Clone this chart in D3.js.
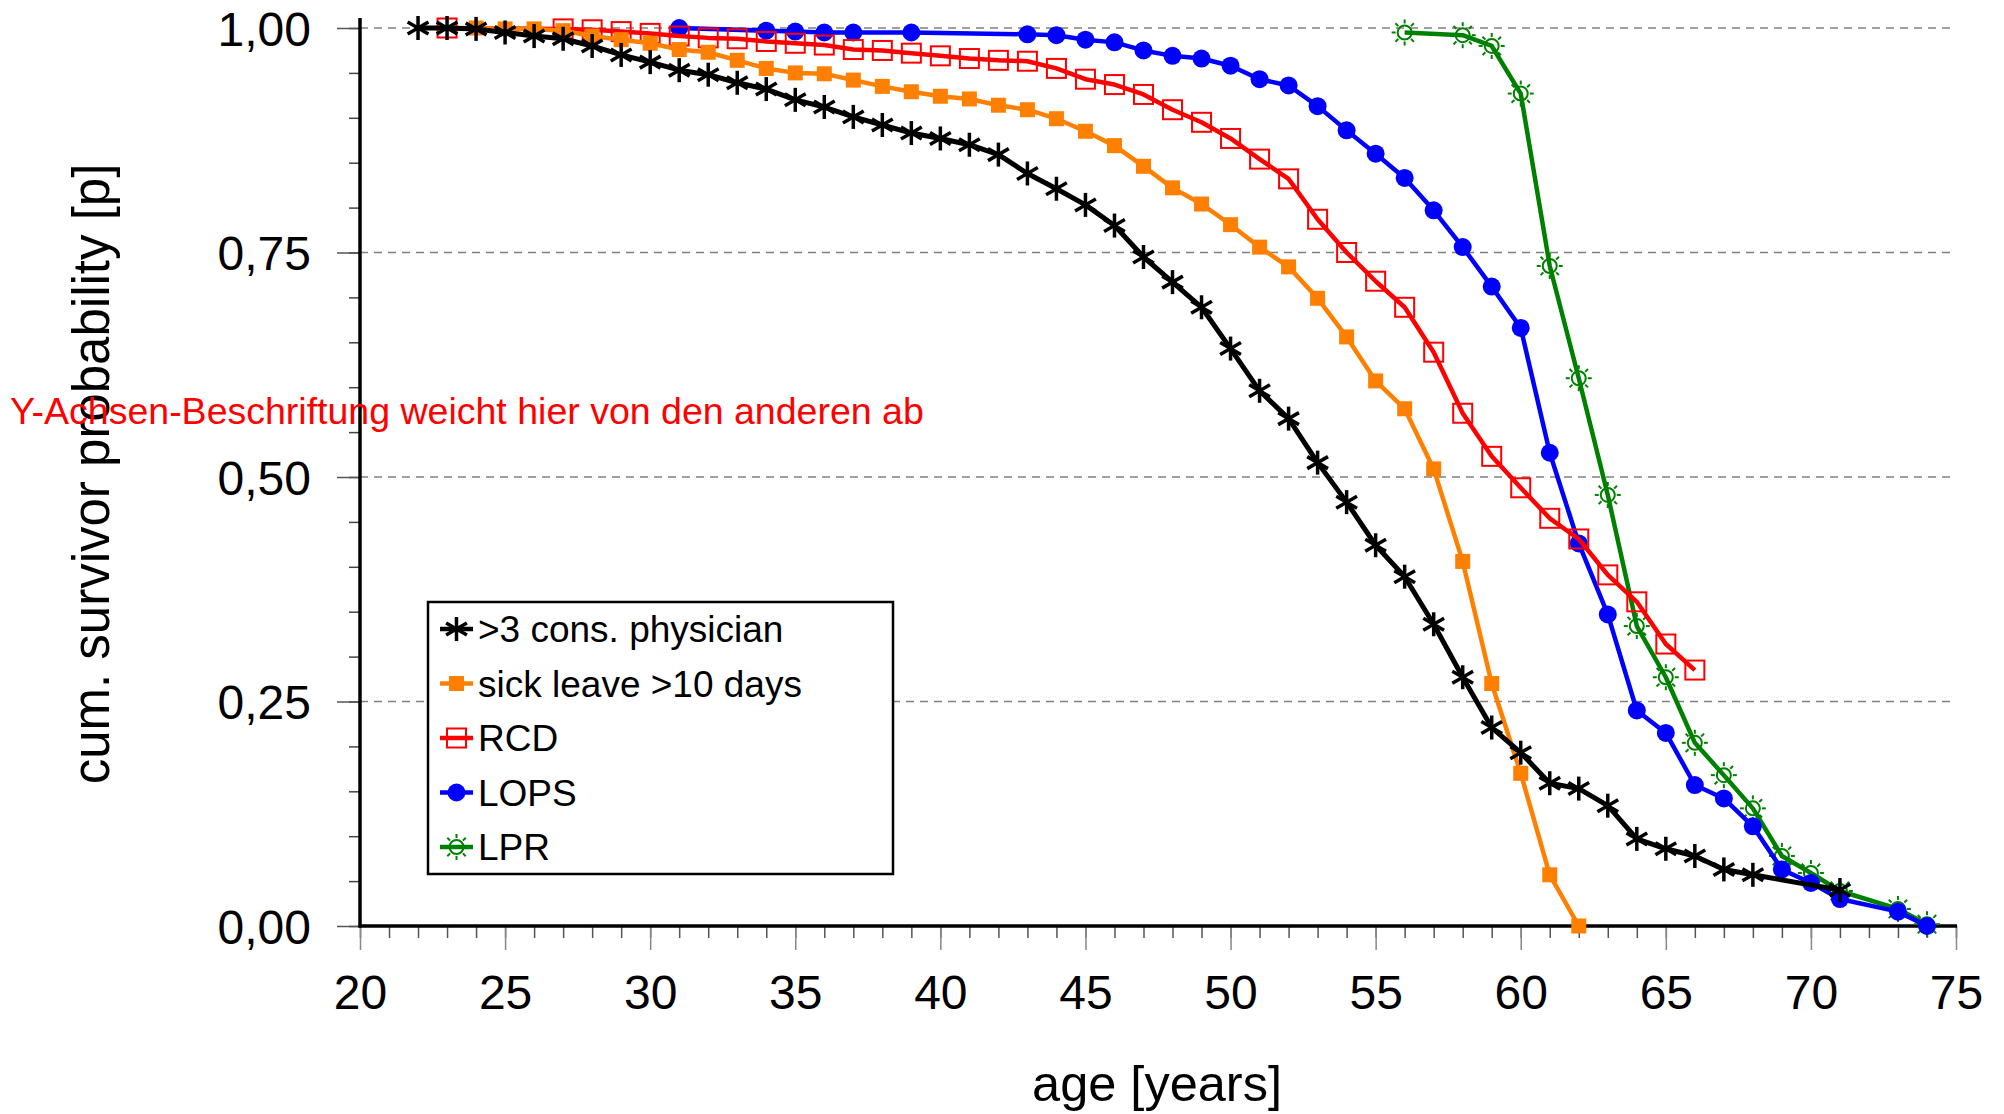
<!DOCTYPE html>
<html lang="de">
<head>
<meta charset="UTF-8" />
<title>cum. survivor probability</title>
<script src="https://d3js.org/d3.v7.min.js"></script>
<style>
  body { margin: 0; background: #fff; }
  svg { display: block; font-family: "Liberation Sans", Arial, Helvetica, sans-serif; }
</style>
</head>
<body>
<svg id="chart" width="2004" height="1114"></svg>
<script>
// --- data ---
const seriesNames = ['>3 cons. physician', 'sick leave >10 days', 'RCD', 'LOPS', 'LPR'];

const physicianAge = [22,23,24,25,26,27,28,29,30,31,32,33,34,35,36,37,38,39,40,41,42,43,44,45,46,47,48,49,50,51,52,53,54,55,56,57,58,59,60,61,62,63,64,65,66,67,68,71];
const physicianP = [1.000,1.000,0.999,0.995,0.991,0.988,0.980,0.970,0.962,0.953,0.948,0.939,0.932,0.920,0.912,0.901,0.892,0.883,0.877,0.870,0.859,0.838,0.821,0.803,0.780,0.745,0.717,0.689,0.643,0.596,0.565,0.516,0.472,0.424,0.389,0.336,0.277,0.221,0.193,0.159,0.153,0.134,0.097,0.086,0.078,0.063,0.057,0.040];

const sickAge = [24,25,26,27,28,29,30,31,32,33,34,35,36,37,38,39,40,41,42,43,44,45,46,47,48,49,50,51,52,53,54,55,56,57,58,59,60,61,62];
const sickP = [1.000,0.999,0.999,0.997,0.991,0.987,0.983,0.976,0.973,0.964,0.955,0.950,0.949,0.942,0.935,0.929,0.924,0.921,0.914,0.909,0.899,0.885,0.869,0.846,0.822,0.804,0.781,0.756,0.734,0.699,0.656,0.607,0.576,0.509,0.406,0.270,0.170,0.057,0.000];

const rcdAge = [23,27,28,29,30,31,32,33,34,35,36,37,38,39,40,41,42,43,44,45,46,47,48,49,50,51,52,53,54,55,56,57,58,59,60,61,62,63,64,65,66];
const rcdP = [1.000,0.999,0.998,0.996,0.994,0.991,0.989,0.988,0.985,0.983,0.981,0.976,0.975,0.972,0.969,0.966,0.964,0.963,0.955,0.943,0.937,0.926,0.909,0.895,0.877,0.854,0.832,0.787,0.750,0.718,0.689,0.639,0.571,0.523,0.488,0.454,0.431,0.391,0.361,0.314,0.285];

const lopsAge = [31,34,35,36,37,39,43,44,45,46,47,48,49,50,51,52,53,54,55,56,57,58,59,60,61,62,63,64,65,66,67,68,69,70,71,73,74];
const lopsP = [1.000,0.997,0.996,0.995,0.995,0.995,0.993,0.992,0.987,0.984,0.975,0.969,0.966,0.958,0.943,0.936,0.913,0.886,0.860,0.833,0.797,0.756,0.712,0.666,0.527,0.426,0.347,0.240,0.215,0.157,0.142,0.111,0.063,0.048,0.030,0.016,0.000];

const lprAge = [56,58,59,60,61,62,63,64,65,66,67,68,69,70,71,73,74];
const lprP = [0.995,0.992,0.980,0.927,0.735,0.610,0.480,0.334,0.277,0.204,0.168,0.131,0.078,0.059,0.039,0.019,0.002];

const xTickValues = [20,25,30,35,40,45,50,55,60,65,70,75];
const yTickValues = [0, 0.25, 0.5, 0.75, 1];

const xTitle = 'age [years]';
const yTitle = 'cum. survivor probability [p]';
const note = 'Y-Achsen-Beschriftung weicht hier von den anderen ab';

// --- setup ---
const svg = d3.select('#chart');
const plotLeft = 360, plotRight = 1956, plotTop = 28, plotBottom = 926;

const x = d3.scaleLinear().domain([20, 75]).range([plotLeft, plotRight]);
const y = d3.scaleLinear().domain([0, 1]).range([plotBottom, plotTop]);

const de = d3.formatLocale({ decimal: ',', thousands: '.', grouping: [3], currency: ['', ' €'] });
const fmtY = de.format('.2f');

const zip = (a, p) => a.map((age, i) => ({ age, p: p[i] }));

const series = [
  { name: seriesNames[0], data: zip(physicianAge, physicianP), color: '#000000', symbol: 'asterisk', width: 5 },
  { name: seriesNames[1], data: zip(sickAge, sickP), color: '#ff8000', symbol: 'square', width: 4.5 },
  { name: seriesNames[2], data: zip(rcdAge, rcdP), color: '#ff0000', symbol: 'openSquare', width: 4.5 },
  { name: seriesNames[3], data: zip(lopsAge, lopsP), color: '#0000ff', symbol: 'circle', width: 4.5 },
  { name: seriesNames[4], data: zip(lprAge, lprP), color: '#008000', symbol: 'sun', width: 4.5 }
];

svg.append('rect').attr('width', 2004).attr('height', 1114).attr('fill', '#fff');

// grid lines
svg.append('g')
  .selectAll('line')
  .data(yTickValues.filter(v => v > 0))
  .join('line')
  .attr('x1', plotLeft).attr('x2', plotRight - 4)
  .attr('y1', d => y(d)).attr('y2', d => y(d))
  .attr('stroke', '#808080')
  .attr('stroke-width', 1.6)
  .attr('stroke-dasharray', '8,6');

// y axis: minor then major ticks
svg.append('g')
  .attr('transform', `translate(${plotLeft},0)`)
  .call(d3.axisLeft(y).tickValues(d3.range(0, 1.001, 0.05)).tickSize(11).tickFormat(''))
  .call(g => g.select('.domain').remove())
  .call(g => g.selectAll('line').attr('stroke', '#444').attr('stroke-width', 1.5));

svg.append('g')
  .attr('transform', `translate(${plotLeft},0)`)
  .call(d3.axisLeft(y).tickValues(yTickValues).tickSize(23).tickPadding(26).tickFormat(fmtY))
  .call(g => g.select('.domain').remove())
  .call(g => g.selectAll('line').attr('stroke', '#555').attr('stroke-width', 1.5))
  .call(g => g.selectAll('text').attr('font-size', 48).attr('fill', '#000')
    .attr('font-family', '"Liberation Sans", Arial, sans-serif').attr('dy', '0.36em'));

// x axis: minor then major ticks
svg.append('g')
  .attr('transform', `translate(0,${plotBottom})`)
  .call(d3.axisBottom(x).tickValues(d3.range(20, 76, 1)).tickSize(12).tickFormat(''))
  .call(g => g.select('.domain').remove())
  .call(g => g.selectAll('line').attr('stroke', '#555').attr('stroke-width', 1.5));

svg.append('g')
  .attr('transform', `translate(0,${plotBottom})`)
  .call(d3.axisBottom(x).tickValues(xTickValues).tickSize(24).tickPadding(0).tickFormat(d => d))
  .call(g => g.select('.domain').remove())
  .call(g => g.selectAll('line').attr('stroke', '#888').attr('stroke-width', 1.5))
  .call(g => g.selectAll('text').attr('font-size', 48).attr('fill', '#000')
    .attr('font-family', '"Liberation Sans", Arial, sans-serif')
    .attr('y', 83).attr('dy', 0));

// axis lines
svg.append('line').attr('x1', plotLeft).attr('x2', plotLeft).attr('y1', 18).attr('y2', plotBottom + 1.5)
  .attr('stroke', '#000').attr('stroke-width', 3.5);
svg.append('line').attr('x1', plotLeft - 1.5).attr('x2', plotRight + 1).attr('y1', plotBottom).attr('y2', plotBottom)
  .attr('stroke', '#000').attr('stroke-width', 3.5);

// markers
function drawMarker(g, type, color) {
  if (type === 'asterisk') {
    const r = 12;
    [90, 30, -30].forEach(a => {
      const dx = r * Math.cos(a * Math.PI / 180), dy = r * Math.sin(a * Math.PI / 180);
      g.append('line').attr('x1', -dx).attr('y1', -dy).attr('x2', dx).attr('y2', dy)
        .attr('stroke', color).attr('stroke-width', 3.5);
    });
  } else if (type === 'square') {
    g.append('rect').attr('x', -7.5).attr('y', -7.5).attr('width', 15).attr('height', 15).attr('fill', color);
  } else if (type === 'openSquare') {
    g.append('rect').attr('x', -9.5).attr('y', -9.5).attr('width', 19).attr('height', 19)
      .attr('fill', 'none').attr('stroke', color).attr('stroke-width', 2);
  } else if (type === 'circle') {
    g.append('circle').attr('r', 9).attr('fill', color);
  } else if (type === 'sun') {
    g.append('circle').attr('r', 7).attr('fill', 'none').attr('stroke', color).attr('stroke-width', 2);
    d3.range(8).forEach(i => {
      const a = i * Math.PI / 4;
      g.append('line')
        .attr('x1', 9 * Math.cos(a)).attr('y1', 9 * Math.sin(a))
        .attr('x2', 13 * Math.cos(a)).attr('y2', 13 * Math.sin(a))
        .attr('stroke', color).attr('stroke-width', 2);
    });
  }
}

const line = d3.line().x(d => x(d.age)).y(d => y(d.p));

// draw in reverse legend order so the black series ends up on top
series.slice().reverse().forEach(s => {
  const g = svg.append('g');
  g.append('path')
    .attr('d', line(s.data))
    .attr('fill', 'none')
    .attr('stroke', s.color)
    .attr('stroke-width', s.width)
    .attr('stroke-linejoin', 'round');
  g.selectAll('g.mk')
    .data(s.data)
    .join('g')
    .attr('class', 'mk')
    .attr('transform', d => `translate(${x(d.age)},${y(d.p)})`)
    .each(function () { drawMarker(d3.select(this), s.symbol, s.color); });
});

// legend
const legend = svg.append('g');
legend.append('rect')
  .attr('x', 428).attr('y', 602).attr('width', 465).attr('height', 272)
  .attr('fill', '#fff').attr('stroke', '#000').attr('stroke-width', 2.5);

series.forEach((s, i) => {
  const ly = 629 + i * 54.5;
  const row = legend.append('g').attr('transform', `translate(0,${ly})`);
  row.append('line').attr('x1', 440).attr('x2', 473).attr('y1', 0).attr('y2', 0)
    .attr('stroke', s.color).attr('stroke-width', 4.5);
  drawMarker(row.append('g').attr('transform', 'translate(456.5,0)'), s.symbol, s.color);
  row.append('text')
    .attr('x', 478).attr('y', 0).attr('dy', '0.36em')
    .attr('font-size', 37).attr('fill', '#000')
    .text(s.name);
});

// axis titles
svg.append('text')
  .attr('x', 1157).attr('y', 1101)
  .attr('text-anchor', 'middle')
  .attr('font-size', 50.5)
  .text(xTitle);

svg.append('text')
  .attr('transform', 'translate(109,474) rotate(-90)')
  .attr('text-anchor', 'middle')
  .attr('font-size', 51)
  .text(yTitle);

// red note on top
svg.append('text')
  .attr('x', 10).attr('y', 424)
  .attr('font-size', 37.5)
  .attr('fill', '#ff0000')
  .text(note);
</script>
</body>
</html>
